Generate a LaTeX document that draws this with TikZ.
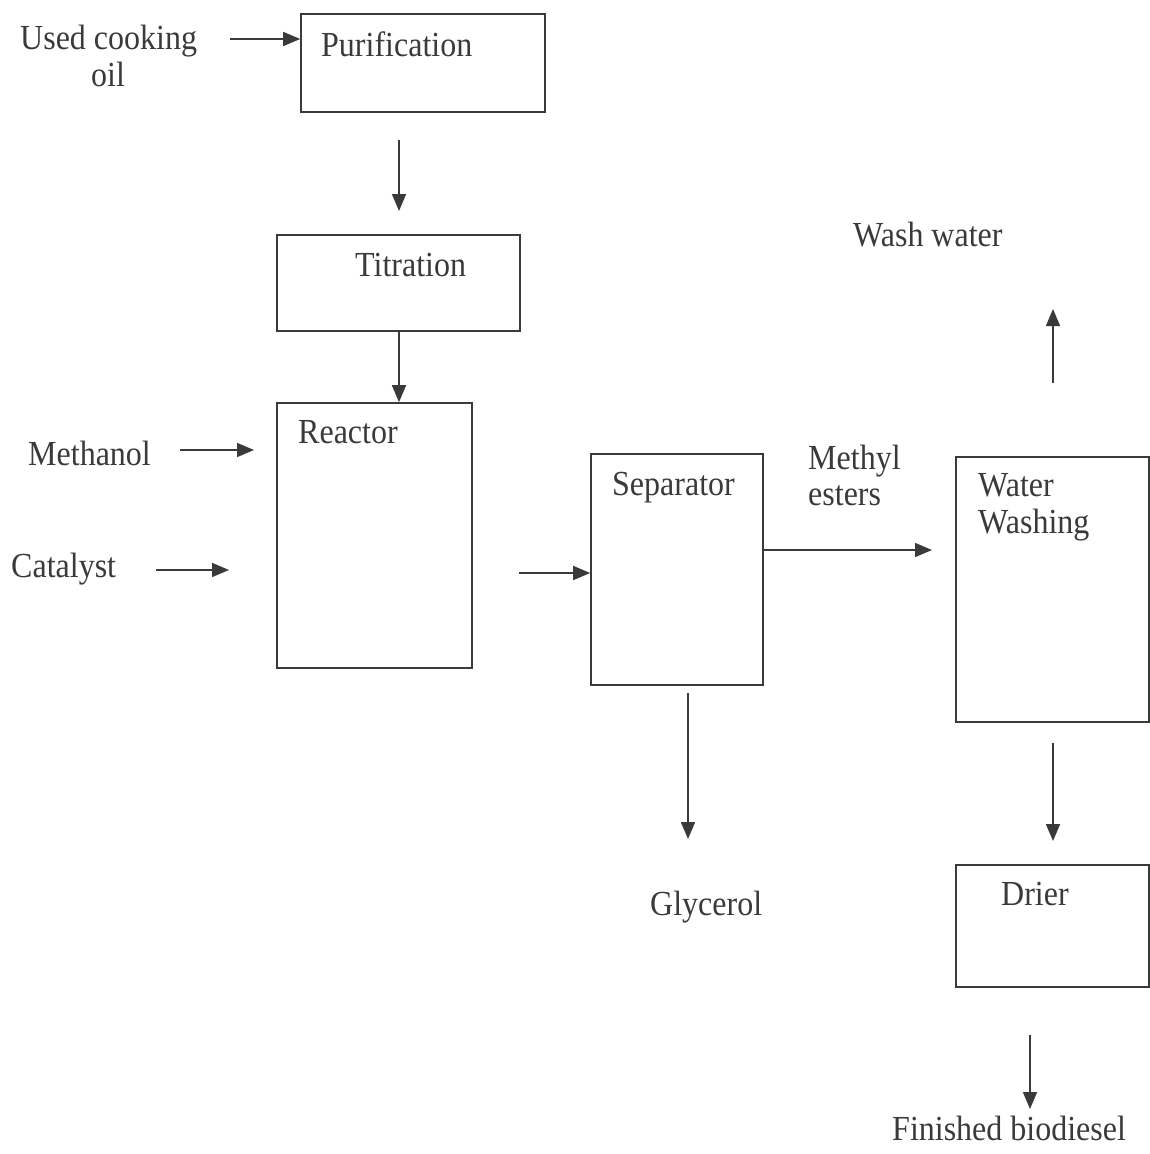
\documentclass[tikz,border=0pt]{standalone}
\usepackage{fontspec}
\setmainfont{Liberation Serif}
\usetikzlibrary{arrows.meta}
\definecolor{ink}{HTML}{3A3A3A}
\newcommand{\tallt}[1]{\scalebox{1}[1.1]{#1}}
\begin{document}
\begin{tikzpicture}[x=1pt,y=-1pt,
  box/.style={draw=ink, line width=1.6pt, inner sep=0pt},
  lbl/.style={anchor=base west, inner sep=0pt, text=ink, font=\fontsize{32}{36}\selectfont},
  flow/.style={draw=ink, line width=1.6pt, -{Triangle[length=17pt,width=14pt]}}]
\useasboundingbox (0,0) rectangle (1150,1154);
% boxes
\node[box, minimum width=244pt, minimum height=98pt] (pur) at (423,63) {};
\node[box, minimum width=243pt, minimum height=96pt] (tit) at (398.5,283) {};
\node[box, minimum width=195pt, minimum height=265pt] (rea) at (374.5,535.5) {};
\node[box, minimum width=172pt, minimum height=231pt] (sep) at (677,569.5) {};
\node[box, minimum width=193pt, minimum height=265pt] (wash) at (1052.5,589.5) {};
\node[box, minimum width=193pt, minimum height=122pt] (dri) at (1052.5,926) {};
% labels
\node[lbl] (tuco) at (20,49) {\tallt{Used cooking}};
\node[lbl, anchor=base] (toil) at (108,86) {\tallt{oil}};
\node[lbl] (tpur) at (321,56) {\tallt{Purification}};
\node[lbl] (ttit) at (355,276) {\tallt{Titration}};
\node[lbl] (trea) at (298,443) {\tallt{Reactor}};
\node[lbl] (tmet) at (28,465) {\tallt{Methanol}};
\node[lbl] (tcat) at (11,577) {\tallt{Catalyst}};
\node[lbl] (tsep) at (612,495) {\tallt{Separator}};
\node[lbl] (tme1) at (808,469) {\tallt{Methyl}};
\node[lbl] (tme2) at (808,505) {\tallt{esters}};
\node[lbl] (twa1) at (978,496) {\tallt{Water}};
\node[lbl] (twa2) at (978,533) {\tallt{Washing}};
\node[lbl] (tww) at (853,246) {\tallt{Wash water}};
\node[lbl] (tgly) at (650,915) {\tallt{Glycerol}};
\node[lbl] (tdri) at (1001,905) {\tallt{Drier}};
\node[lbl] (tfin) at (892,1140) {\tallt{Finished biodiesel}};
% free ends
\coordinate (c1) at (230,39);
\coordinate (c2a) at (399,140);
\coordinate (c2b) at (399,211);
\coordinate (c4a) at (180,450);
\coordinate (c4b) at (254,450);
\coordinate (c5a) at (156,570);
\coordinate (c5b) at (229,570);
\coordinate (c6) at (519,573);
\coordinate (c7) at (932,550);
\coordinate (c8a) at (688,693);
\coordinate (c8b) at (688,839);
\coordinate (c9a) at (1053,383);
\coordinate (c9b) at (1053,309);
\coordinate (c10a) at (1053,743);
\coordinate (c10b) at (1053,841);
\coordinate (c11a) at (1030,1035);
\coordinate (c11b) at (1030,1109);
% connectors
\draw[flow] (c1) -- (c1 -| pur.west);
\draw[flow] (c2a) -- (c2b);
\draw[flow] (tit.south -| c2a) -- (rea.north -| c2a);
\draw[flow] (c4a) -- (c4b);
\draw[flow] (c5a) -- (c5b);
\draw[flow] (c6) -- (c6 -| sep.west);
\draw[flow] (c7 -| sep.east) -- (c7);
\draw[flow] (c8a) -- (c8b);
\draw[flow] (c9a) -- (c9b);
\draw[flow] (c10a) -- (c10b);
\draw[flow] (c11a) -- (c11b);
\end{tikzpicture}
\end{document}
